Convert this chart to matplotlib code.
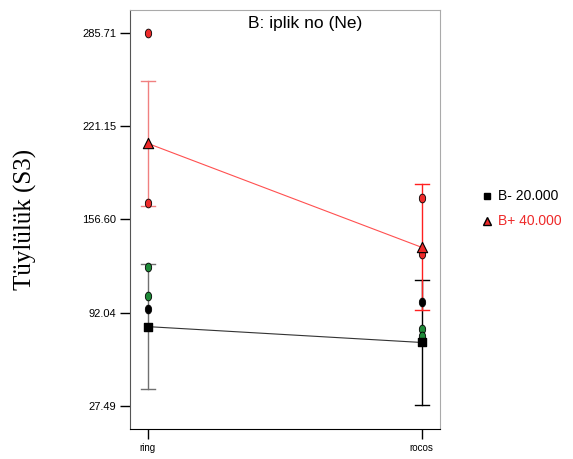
import numpy as np
import matplotlib
matplotlib.use("Agg")
import matplotlib.pyplot as plt
from matplotlib.path import Path
from matplotlib.transforms import Affine2D

# ---- data ----
levels = ["ring", "rocos"]
ytick_vals = [27.49, 92.04, 156.60, 221.15, 285.71]

mean_low = [82.3, 71.3]        # B- 20.000
mean_high = [209.4, 137.3]     # B+ 40.000
lsd_half = [43.6, 43.6]

# observed points (x level index, value)
red_x = [0, 0, 1, 1]
red_y = [285.9, 167.8, 171.7, 132.7]
green_x = [0, 0, 1, 1]
green_y = [123.9, 103.6, 80.5, 76.0]
black_x = [0, 1]
black_y = [94.5, 99.2]

RED = "#ee2a2a"
GREEN = "#1e8a38"

# small upright ellipse marker like the original
ellipse = Path.unit_circle().transformed(Affine2D().scale(0.72, 1.0))

fig = plt.figure(figsize=(5.73, 4.59), dpi=100)
ax = fig.add_axes([0.2269, 0.0654, 0.541, 0.9128])

x = np.arange(len(levels))

# error bars (LSD style)
cap = 0.025
for xi, m, h, col in [(0, mean_low[0], lsd_half[0], "#707070"),
                      (1, mean_low[1], lsd_half[1], "black"),
                      (0, mean_high[0], lsd_half[0], "#f08080"),
                      (1, mean_high[1], lsd_half[1], "#ff2020")]:
    ax.plot([xi, xi], [m - h, m + h], color=col, lw=1.0, zorder=2)
    ax.plot([xi - cap, xi + cap], [m + h, m + h], color=col, lw=1.0, zorder=2)
    ax.plot([xi - cap, xi + cap], [m - h, m - h], color=col, lw=1.0, zorder=2)

# mean lines
ax.plot(x, mean_low, color="#333333", lw=0.8, zorder=3)
ax.plot(x, mean_high, color="#ff5050", lw=0.8, zorder=3)

# observations
ax.scatter(red_x, red_y, marker=ellipse, s=40, c=RED, edgecolors="black",
           linewidths=0.6, zorder=4)
ax.scatter(green_x, green_y, marker=ellipse, s=40, c=GREEN, edgecolors="black",
           linewidths=0.6, zorder=4)
ax.scatter(black_x, black_y, marker=ellipse, s=40, c="black", edgecolors="black",
           linewidths=0.6, zorder=4)

# means
ax.scatter(x, mean_low, marker="s", s=38, c="black", zorder=5)
ax.scatter(x, mean_high, marker="^", s=55, c=RED, edgecolors="black",
           linewidths=0.8, zorder=5)

ax.set_xlim(-0.0646, 1.067)
ax.set_ylim(11.3, 301.9)
ax.set_xticks(x)
ax.set_xticklabels(levels, fontsize=7, family="Liberation Sans")
ax.set_yticks(ytick_vals)
ax.set_yticklabels([f"{v:.2f}" for v in ytick_vals], fontsize=8,
                   family="Liberation Sans")
ax.tick_params(axis="both", direction="out", length=7, width=1, pad=3)

for side in ["top", "right"]:
    ax.spines[side].set_color("#aaaaaa")
    ax.spines[side].set_linewidth(0.8)
ax.spines["left"].set_color("#555555")
ax.spines["bottom"].set_color("black")

ax.text(0.565, 0.985, "B: iplik no (Ne)", transform=ax.transAxes,
        ha="center", va="top", fontsize=12.5, family="Liberation Sans")

fig.text(0.0436, 0.523, "Tüylülük (S3)", rotation=90, ha="center",
         va="center", fontsize=18, family="Liberation Serif")

# legend drawn by hand to match the original placement
fig.lines.append(plt.Line2D([0.850], [1 - 196 / 459], marker="s", ms=5,
                            color="black", transform=fig.transFigure))
fig.lines.append(plt.Line2D([0.850], [1 - 221 / 459], marker="^", ms=6,
                            mfc=RED, mec="black", color="none",
                            transform=fig.transFigure))
fig.text(0.869, 1 - 196 / 459, "B- 20.000", va="center", fontsize=10,
         family="Liberation Sans", color="black")
fig.text(0.869, 1 - 221 / 459, "B+ 40.000", va="center", fontsize=10,
         family="Liberation Sans", color=RED)

fig.savefig("out.png", dpi=100)
